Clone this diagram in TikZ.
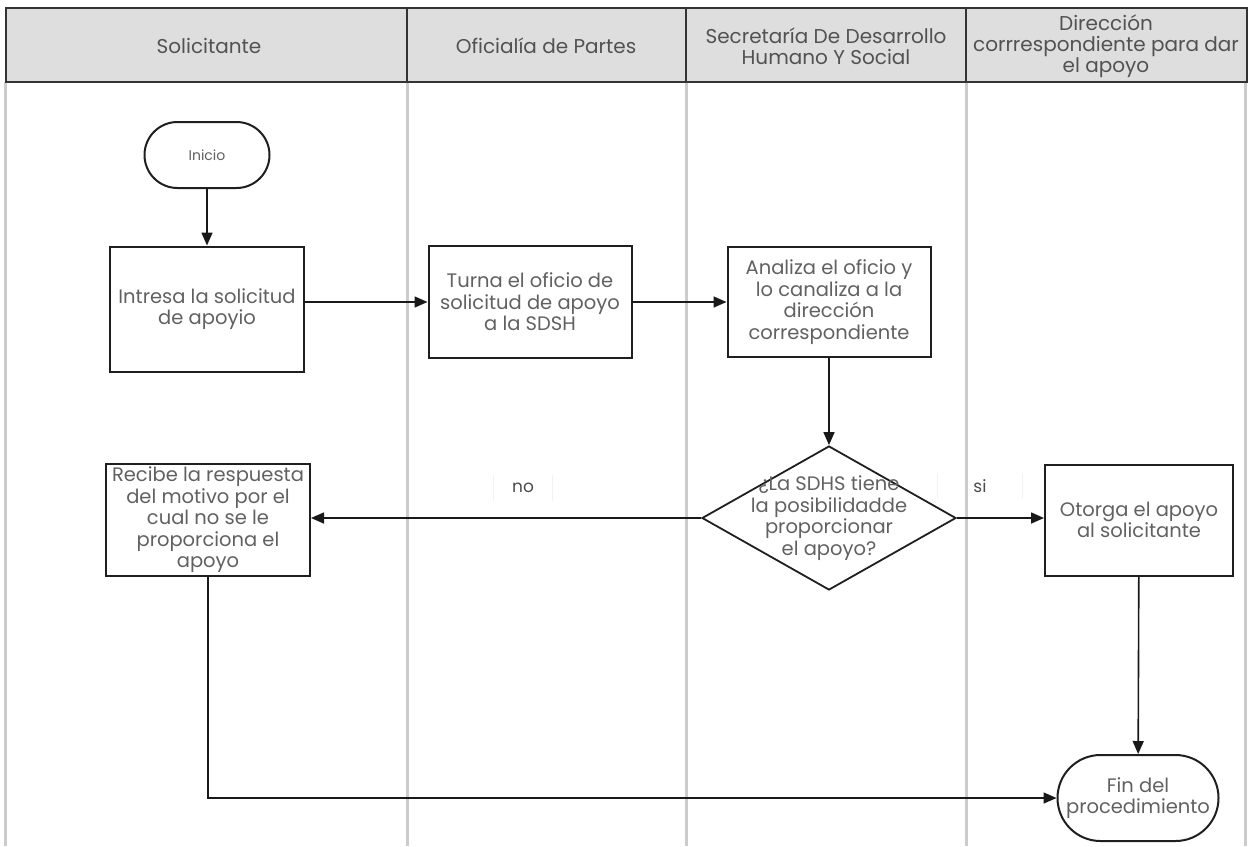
\documentclass[tikz,border=0pt]{standalone}
\usepackage{fontspec}
\setmainfont{Poppins}
\usepackage{tikz}
\usetikzlibrary{shapes.geometric,arrows.meta}
\newcommand{\carril}[1]{\draw[carril] (#1,82) -- (#1,846);}
\newcommand{\titulo}[3]{\node[encab] (#1) at (#2) {#3};}

\begin{document}
\begin{tikzpicture}[x=1pt,y=-1pt,
  carril/.style={line width=3pt,draw=black!20},
  encab/.style={font=\fontsize{20}{21}\selectfont,text=black!68,align=center},
  caja/.style={draw=black!88,line width=2pt,fill=white,align=center,inner sep=1pt,
    text=black!62,font=\fontsize{19.5}{21.5}\selectfont},
  terminal/.style={caja,rounded corners=#1},
  decision/.style={draw=black!88,line width=1.8pt,diamond,inner sep=0pt,
    minimum width=254pt,minimum height=144pt},
  etiqueta/.style={text=black!70,font=\fontsize{17}{18}\selectfont,
    minimum width=59pt,minimum height=26pt},
  marca/.style={draw=black!5,line width=1pt},
  flecha/.style={-{Triangle[length=13pt,width=11pt]},line width=1.6pt,draw=black!90}]
\useasboundingbox (0,0) rectangle (1252,846);
% ---- CARRILES ----
\foreach \x in {5,407,686,966,1245}{\carril{\x}}
\draw[fill=black!13,draw=black!80,line width=2pt] (6,8) rectangle (1247,82);
\foreach \x in {407,686,966}{\draw[black!80,line width=2pt] (\x,8) -- (\x,82);}
\titulo{sol}{209,46}{Solicitante}
\titulo{ofi}{546,46}{Oficialía de Partes}
\titulo{sec}{826,46}{Secretaría De Desarrollo\\Humano Y Social}
\titulo{dir}{1106,46}{Dirección\\corrrespondiente para dar\\el apoyo}
% ---- NODOS ----
\node[terminal=33pt,minimum width=125pt,minimum height=66pt,
  font=\fontsize{14}{16}\selectfont] (inicio) at (207,155) {Inicio};
\node[caja,minimum width=194pt,minimum height=125pt] (ingresa) at (207,309) {Intresa la solicitud\\de apoyio};
\node[caja,minimum width=203pt,minimum height=112pt] (turna) at (530,302) {Turna el oficio de\\solicitud de apoyo\\a la SDSH};
\node[caja,minimum width=203pt,minimum height=110pt] (analiza) at (829,302) {Analiza el oficio y\\lo canaliza a la\\dirección\\correspondiente};
\node[decision] (decide) at (829,518) {};
\node[align=center,text=black!62,font=\fontsize{19.5}{21.5}\selectfont] (pregunta) at (decide.center) {¿La SDHS tiene\\la posibilidadde\\proporcionar\\el apoyo?};
\node[caja,minimum width=204pt,minimum height=112pt,inner sep=0pt] (recibe) at (208,520) {Recibe la respuesta\\del motivo por el\\cual no se le\\proporciona el\\apoyo};
\node[caja,minimum width=188pt,minimum height=111pt] (otorga) at (1139,520) {Otorga el apoyo\\al solicitante};
\node[terminal=43pt,minimum width=161pt,minimum height=86pt] (fin) at (1138,798) {Fin del\\procedimiento};
% ---- ETIQUETAS ----
\node[etiqueta] (no) at (523,488) {no};
\node[etiqueta,minimum width=84pt] (si) at (980,486) {si};
\draw[marca] (no.north west) -- (no.south west) (no.north east) -- (no.south east);
\draw[marca] (si.north west) -- (si.south west) (si.north east) -- (si.south east);
% ---- FLECHAS ----
\draw[flecha] (inicio) -- (ingresa);
\draw[flecha] (ingresa.east |- turna.west) -- (turna.west);
\draw[flecha] (turna) -- (analiza);
\draw[flecha] (analiza) -- (decide);
\draw[flecha] (decide.west) -- (recibe.east |- decide.west);
\draw[flecha] (decide.east) -- (otorga.west |- decide.east);
\draw[flecha] (otorga) -- (fin);
\draw[flecha] (recibe.south) -- (recibe.south |- fin.west) -- (fin.west);
\end{tikzpicture}
\end{document}
